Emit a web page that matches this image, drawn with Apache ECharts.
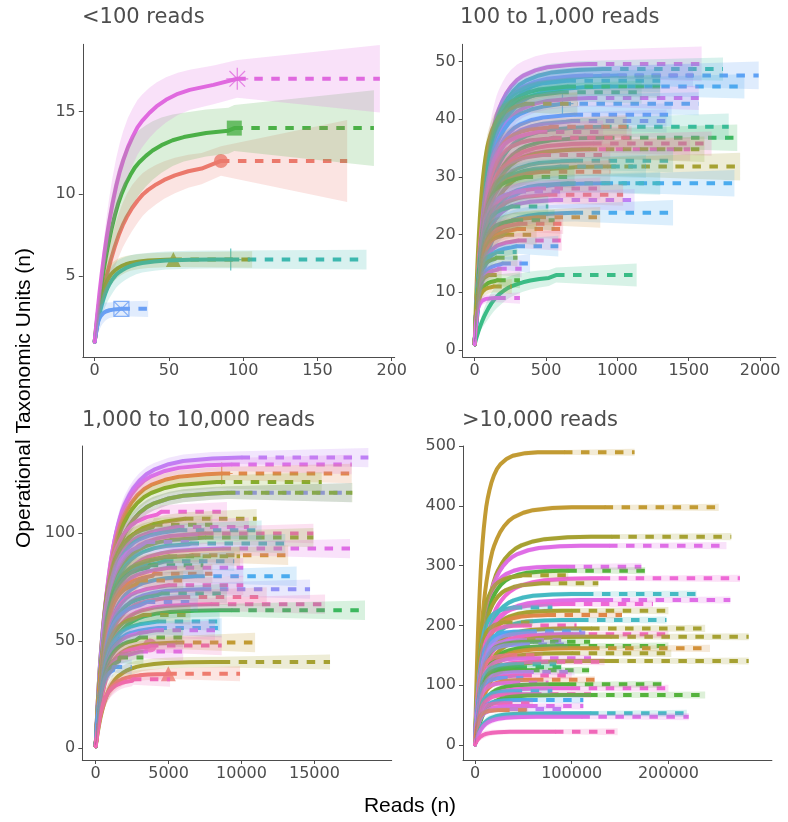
<!DOCTYPE html>
<html>
<head>
<meta charset="utf-8">
<script src="https://cdn.jsdelivr.net/npm/echarts@6/dist/echarts.min.js"></script>
<style>
  html, body { margin: 0; padding: 0; background: #ffffff; }
  #chart { width: 788px; height: 822px; }
</style>
</head>
<body>
<div id="chart"></div>
<script>
// ---- Panel headings and axis ticks ----
const panelTitles = ['<100 reads', '100 to 1,000 reads', '1,000 to 10,000 reads', '>10,000 reads'];
const xTickValues = [[0, 50, 100, 150, 200], [0, 500, 1000, 1500, 2000], [0, 5000, 10000, 15000], [0, 100000, 200000]];
const yTickValues = [[5, 10, 15], [0, 10, 20, 30, 40, 50], [0, 50, 100], [0, 100, 200, 300, 400, 500]];
const yAxisTitle = 'Operational Taxonomic Units (n)';
const xAxisTitle = 'Reads (n)';

// ---- Rarefaction profile shared by all curves ----
// steps in units of a sample's knee (reads), share of the OTU count reached,
// and relative width of the confidence ribbon along the rise
const kneeSteps   = [0, 0.05, 0.1, 0.2, 0.3, 0.4, 0.5, 0.6, 0.75, 0.9, 1.05, 1.2, 1.4, 1.6, 1.8, 2.0, 2.3, 2.6, 3.0, 3.5, 4, 5, 6, 8, 10];
const riseShare   = [0, 0.05, 0.097, 0.185, 0.262, 0.333, 0.395, 0.45, 0.525, 0.59, 0.645, 0.69, 0.74, 0.78, 0.815, 0.84, 0.87, 0.895, 0.92, 0.943, 0.958, 0.977, 0.988, 0.997, 1];
const spreadShare = [0, 0.15, 0.3, 0.5, 0.7, 0.9, 1.1, 1.25, 1.4, 1.48, 1.52, 1.55, 1.55, 1.5, 1.45, 1.4, 1.33, 1.27, 1.2, 1.12, 1.06, 1.02, 1, 1, 1];

// ---- Colours ----
const lowColors = ['#EC7A6C', '#A59B1E', '#4CB148', '#3EB8AF', '#6B9FF5', '#E069DF'];
const hueColors = ['#EE7B6E', '#E0884A', '#D4923A', '#C29B34', '#A7A232', '#86AD2E', '#55B33E', '#3DB85E',
                   '#3ABC86', '#3ABDA6', '#45BBC3', '#45B5DC', '#4AACEE', '#5FA2F6', '#9191F6', '#BE80F5',
                   '#DF6FE6', '#EE68D6', '#F167B9', '#F27291'];

// ---- Samples ----
// [observed reads, extrapolated to, observed OTUs, knee reads, CI half-width at observed, CI half-width at end, colour]
const lowSamples = [
  [85, 170, 12, 18, 0.9, 2.5, 0],
  [53, 106, 6, 6, 0.45, 0.5, 1],
  [94, 188, 14, 15, 1.4, 2.3, 2],
  [91.6, 183, 6, 8, 0.55, 0.6, 3],
  [18, 36, 3, 2.5, 0.45, 0.5, 4],
  [96, 192, 17, 16, 1.15, 2.05, 5]
];
const hundredsSamples = [
  [800, 1590, 49.6, 85, 2.4, 3.0, 16],
  [900, 1740, 48.7, 90, 1.5, 2.0, 9],
  [1000, 1990, 47.6, 100, 1.7, 2.4, 13],
  [770, 1530, 47.6, 85, 1.5, 2.0, 14],
  [650, 1300, 46.7, 75, 1.5, 2.0, 11],
  [950, 1890, 45.7, 95, 1.5, 2.1, 12],
  [650, 1300, 45.7, 75, 1.5, 2.0, 7],
  [600, 1170, 44.7, 70, 1.5, 2.0, 8],
  [800, 1570, 43.7, 85, 1.5, 2.1, 16],
  [615, 1570, 42.7, 80, 1.5, 2.0, 12],
  [360, 720, 42.7, 48, 1.5, 2.0, 4],
  [700, 1380, 40.8, 80, 1.5, 2.0, 13],
  [680, 1345, 39.7, 80, 1.5, 2.0, 14],
  [900, 1780, 38.7, 90, 1.6, 2.3, 9],
  [530, 1065, 38.7, 65, 1.5, 2.0, 1],
  [450, 900, 37.8, 60, 1.5, 2.0, 17],
  [920, 1840, 36.8, 90, 1.6, 2.3, 7],
  [550, 1100, 36.8, 65, 1.5, 2.0, 19],
  [830, 1660, 35.8, 85, 1.5, 2.1, 18],
  [750, 1510, 34.8, 80, 1.5, 2.0, 17],
  [800, 1610, 34.8, 85, 1.5, 2.2, 5],
  [475, 950, 33.8, 60, 1.5, 2.0, 19],
  [700, 1390, 32.8, 75, 1.5, 2.0, 10],
  [930, 1860, 31.8, 90, 1.6, 2.4, 4],
  [600, 1200, 31.8, 70, 1.5, 2.0, 10],
  [470, 950, 30.9, 60, 1.5, 2.0, 0],
  [350, 700, 30.0, 48, 1.4, 1.9, 6],
  [910, 1820, 28.9, 90, 1.5, 2.3, 12],
  [650, 1300, 28.9, 75, 1.5, 2.0, 10],
  [440, 880, 28.0, 55, 1.4, 1.9, 18],
  [300, 600, 27.5, 43, 1.4, 1.9, 15],
  [520, 1040, 26.9, 60, 1.4, 1.9, 0],
  [560, 1120, 26.0, 65, 1.4, 1.9, 15],
  [260, 516, 24.9, 38, 1.3, 1.8, 8],
  [700, 1390, 23.8, 75, 1.5, 2.2, 12],
  [440, 880, 23.0, 55, 1.3, 1.8, 2],
  [280, 560, 22.5, 38, 1.3, 1.8, 7],
  [310, 620, 21.9, 43, 1.3, 1.8, 19],
  [300, 600, 21.0, 43, 1.3, 1.8, 1],
  [217, 434, 20.0, 32, 1.3, 1.8, 4],
  [305, 610, 19.0, 43, 1.3, 1.8, 18],
  [293, 586, 18.0, 43, 1.3, 1.8, 12],
  [147, 294, 17.0, 24, 1.1, 1.5, 10],
  [150, 300, 16.0, 24, 1.1, 1.5, 5],
  [194, 388, 15.0, 30, 1.1, 1.6, 13],
  [165, 329, 14.1, 27, 1.1, 1.5, 16],
  [95, 189, 13.0, 16, 1.0, 1.4, 4],
  [570, 1135, 13.0, 130, 1.3, 2.0, 8],
  [158, 317, 12.1, 24, 1.0, 1.4, 6],
  [130, 260, 11.0, 19, 1.0, 1.3, 3],
  [158, 317, 9.0, 15, 0.7, 1.0, 16]
];
const thousandsSamples = [
  [10000, 18700, 135.2, 1000, 3, 4.5, 15],
  [9300, 17560, 132, 950, 3, 4.5, 16],
  [8640, 17560, 127.8, 950, 3, 4.5, 1],
  [8300, 15500, 123.9, 950, 3, 4.5, 5],
  [9300, 17560, 118.9, 1000, 3, 4.5, 14],
  [9000, 17600, 118.9, 1000, 3, 4.5, 5],
  [4500, 9000, 110, 700, 3, 4.5, 17],
  [6120, 11040, 106.8, 800, 3, 4.5, 4],
  [4000, 8000, 104, 650, 3, 4.5, 5],
  [5500, 10500, 102.9, 750, 3, 4.5, 17],
  [5700, 11380, 101.4, 750, 3, 4.5, 10],
  [7500, 14930, 99.9, 850, 3, 4.5, 18],
  [7500, 14930, 98.0, 850, 3, 4.5, 5],
  [3500, 7000, 96, 600, 3, 4.5, 15],
  [6500, 13000, 95.2, 800, 3, 4.5, 10],
  [8700, 17440, 92.9, 900, 3, 4.5, 16],
  [6600, 13200, 89.8, 800, 3, 4.5, 2],
  [5000, 9900, 89.3, 700, 3, 4.5, 4],
  [4750, 9500, 87, 700, 3, 4.5, 11],
  [3700, 7380, 85.1, 600, 3, 4.5, 7],
  [5000, 10120, 84.0, 700, 3, 4.5, 16],
  [4000, 8000, 81.2, 650, 3, 4.5, 1],
  [6900, 13780, 80.0, 800, 3, 4.5, 12],
  [3000, 6000, 78, 550, 3, 4.5, 2],
  [5000, 10120, 75.8, 700, 3, 4.5, 18],
  [7350, 14700, 74.0, 800, 3, 4.5, 14],
  [4500, 9000, 72, 700, 3, 4.5, 8],
  [5900, 11730, 70.4, 750, 3, 4.5, 19],
  [3500, 7000, 68, 600, 3, 4.5, 13],
  [7900, 15730, 67.0, 800, 3, 4.5, 18],
  [9300, 18470, 64.2, 850, 3, 4.5, 7],
  [3250, 6500, 62, 550, 3, 4.5, 4],
  [4250, 8500, 59, 600, 3, 4.5, 10],
  [4300, 8640, 56.0, 600, 3, 4.5, 12],
  [4100, 8180, 54.9, 600, 3, 4.5, 16],
  [3000, 6000, 51.5, 550, 3, 4.5, 6],
  [5500, 10930, 49.2, 650, 3, 4.5, 3],
  [3720, 8640, 47.8, 600, 3, 4.5, 18],
  [3000, 6000, 45, 500, 3, 4.5, 16],
  [1630, 3270, 42.2, 400, 2.5, 3.5, 6],
  [8640, 16070, 40.1, 800, 2.5, 3.5, 4],
  [1230, 2470, 37.8, 300, 2.5, 3.5, 13],
  [4980, 9900, 34.7, 600, 2.5, 3.5, 0],
  [2550, 5100, 32.1, 500, 2.5, 3.5, 18]
];
const deepSamples = [
  [92000, 165000, 489.5, 6500, 4, 6, 3],
  [134000, 252000, 397.5, 10000, 4, 6, 3],
  [141000, 265000, 348.4, 12000, 4, 6, 4],
  [138600, 260000, 333.3, 11000, 4, 6, 16],
  [94800, 172000, 298.2, 8000, 4, 6, 16],
  [96500, 176000, 291.5, 9000, 4, 6, 6],
  [50000, 96500, 284, 6000, 4, 6, 4],
  [131000, 274000, 278.7, 12000, 4, 6, 17],
  [69000, 127500, 270.4, 8000, 4, 6, 4],
  [113700, 229000, 252.5, 10000, 4, 6, 10],
  [134000, 264000, 242.5, 11000, 4, 6, 16],
  [95000, 184000, 235.8, 9000, 4, 6, 17],
  [40000, 80000, 230, 5000, 4, 6, 10],
  [100000, 200000, 224.6, 9000, 4, 6, 4],
  [75000, 152000, 217.4, 8000, 4, 6, 1],
  [108600, 198000, 209, 9000, 4, 6, 10],
  [30000, 60000, 205, 4000, 4, 6, 4],
  [50000, 105000, 200, 5000, 4, 6, 18],
  [120000, 238000, 195, 10000, 4, 6, 4],
  [55000, 110000, 190, 5000, 4, 6, 12],
  [55000, 114000, 186.7, 6000, 4, 6, 14],
  [100000, 200000, 185, 9000, 4, 6, 18],
  [140000, 283000, 181, 11000, 4, 6, 4],
  [45000, 90000, 175, 5000, 4, 6, 15],
  [60000, 119000, 172.8, 6000, 4, 6, 6],
  [48000, 96000, 168, 5000, 4, 6, 14],
  [100000, 200000, 165.6, 9000, 4, 6, 6],
  [120000, 243000, 161.7, 10000, 4, 6, 2],
  [100000, 203000, 153.3, 9000, 4, 6, 4],
  [35000, 70000, 150, 4000, 4, 6, 19],
  [60000, 120000, 145, 5500, 4, 6, 16],
  [140000, 283000, 140.5, 11000, 4, 6, 4],
  [67000, 134000, 139.3, 7000, 4, 6, 18],
  [42000, 84000, 135, 4500, 4, 6, 10],
  [45000, 90000, 130, 5000, 4, 6, 7],
  [58000, 118000, 125, 5000, 4, 6, 6],
  [52000, 103000, 122, 5000, 4, 6, 15],
  [50000, 100000, 116, 5000, 4, 6, 18],
  [25000, 50000, 112, 3500, 4, 6, 13],
  [62000, 124000, 109, 6000, 4, 6, 1],
  [38000, 76000, 104, 4000, 4, 6, 16],
  [96000, 193000, 101.5, 8000, 4, 6, 6],
  [100000, 200000, 94.8, 8000, 4, 6, 17],
  [40000, 80000, 90, 4500, 4, 6, 11],
  [60000, 120000, 85, 5000, 4, 6, 18],
  [118000, 238000, 83.6, 9000, 4, 6, 6],
  [56000, 112000, 75.3, 5000, 4, 6, 12],
  [30000, 60000, 70, 3500, 4, 6, 18],
  [56000, 112000, 65.2, 5000, 4, 6, 16],
  [45000, 90000, 60, 4000, 4, 6, 15],
  [27000, 55000, 58.5, 3000, 4, 6, 1],
  [119000, 219000, 53, 8000, 4, 6, 10],
  [110000, 221000, 47.4, 8000, 4, 6, 16],
  [82700, 147500, 22.2, 6000, 4, 6, 18]
];

// Observed-point markers: [panel, sample index, shape]
const markedSamples = [
  [0, 0, 'circle'], [0, 1, 'triangle'], [0, 2, 'square'],
  [0, 3, 'plus'], [0, 4, 'squareCross'], [0, 5, 'asterisk'],
  [1, 9, 'plus'],
  [2, 37, 'circle'], [2, 42, 'triangle'], [2, 2, 'plus']
];

// ---- Layout of the four panels ----
const panelLayout = [
  { grid: { left: 82.8, top: 44.3, width: 311.9, height: 312.7 }, x: [-8, 202], y: [0.07, 19.1] },
  { grid: { left: 462.7, top: 44.3, width: 313.1, height: 312.7 }, x: [-84, 2110], y: [-1.21, 53] },
  { grid: { left: 82.3, top: 446, width: 309.4, height: 314 }, x: [-920, 20300], y: [-5.44, 140.6] },
  { grid: { left: 463, top: 446, width: 308.9, height: 314 }, x: [-12400, 307000], y: [-25.1, 500] }
];
const panelSamples = [lowSamples, hundredsSamples, thousandsSamples, deepSamples];
const panelColors = [lowColors, hueColors, hueColors, hueColors];

const symbolPaths = {
  circle: 'circle',
  triangle: 'triangle',
  square: 'rect',
  plus: 'path://M5,0L5,10M0,5L10,5',
  squareCross: 'path://M0,0L10,0L10,10L0,10ZM0,0L10,10M10,0L0,10',
  asterisk: 'path://M5,0L5,10M0,5L10,5M1.46,1.46L8.54,8.54M8.54,1.46L1.46,8.54'
};
const symbolSizes = { circle: 14, triangle: 15, square: 15, plus: 22, squareCross: 15, asterisk: 22 };
const strokedSymbols = { plus: true, squareCross: true, asterisk: true };

function withAlpha(hex, a) {
  const v = parseInt(hex.slice(1), 16);
  return 'rgba(' + ((v >> 16) & 255) + ',' + ((v >> 8) & 255) + ',' + (v & 255) + ',' + a + ')';
}

// Solid rarefied curve, flat extrapolation and ribbon outline for one sample
function sampleGeometry(row) {
  const [obs, end, otus, knee, bandObs, bandEnd] = row;
  const line = [], upper = [], lower = [];
  for (let j = 0; j < kneeSteps.length; j++) {
    const x = kneeSteps[j] * knee;
    if (x >= obs) break;
    const y = 1 + (otus - 1) * riseShare[j];
    const w = bandObs * spreadShare[j];
    line.push([x, y]);
    upper.push([x, y + w]);
    lower.push([x, y - w]);
  }
  line.push([obs, otus]);
  upper.push([obs, otus + bandObs], [end, otus + bandEnd]);
  lower.push([obs, otus - bandObs], [end, otus - bandEnd]);
  return { line, extra: [[obs, otus], [end, otus]], ribbon: upper.concat(lower.reverse()) };
}

const grids = [], xAxes = [], yAxes = [], series = [];
const axisColor = '#4d4d4d';
panelLayout.forEach((p, i) => {
  grids.push(Object.assign({ containLabel: false }, p.grid));
  xAxes.push({
    type: 'value', gridIndex: i, min: p.x[0], max: p.x[1],
    axisLine: { show: true, onZero: false, lineStyle: { color: axisColor, width: 1 } },
    axisTick: { show: true, length: 4, customValues: xTickValues[i], lineStyle: { color: axisColor } },
    axisLabel: { customValues: xTickValues[i], formatter: v => String(v), color: axisColor,
                 fontFamily: 'DejaVu Sans', fontSize: 16, margin: 6 },
    splitLine: { show: false }
  });
  yAxes.push({
    type: 'value', gridIndex: i, min: p.y[0], max: p.y[1],
    axisLine: { show: true, onZero: false, lineStyle: { color: axisColor, width: 1 } },
    axisTick: { show: true, length: 4, customValues: yTickValues[i], lineStyle: { color: axisColor } },
    axisLabel: { customValues: yTickValues[i], formatter: v => String(v), color: axisColor,
                 fontFamily: 'DejaVu Sans', fontSize: 16, margin: 7 },
    splitLine: { show: false }
  });

  const rows = panelSamples[i];
  const colors = panelColors[i];
  const geoms = rows.map(sampleGeometry);

  // rarefied (solid) and extrapolated (dashed) curves
  rows.forEach((row, k) => {
    const c = colors[row[6]];
    series.push({
      type: 'line', xAxisIndex: i, yAxisIndex: i, data: geoms[k].line,
      smooth: false, showSymbol: false, symbol: 'none', silent: true, z: 2,
      lineStyle: { color: c, width: 4, cap: 'round', join: 'round' }
    });
    series.push({
      type: 'line', xAxisIndex: i, yAxisIndex: i, data: geoms[k].extra,
      showSymbol: false, symbol: 'none', silent: true, z: 2,
      lineStyle: { color: c, width: 4, type: [8.5, 8.5], cap: 'butt' }
    });
  });

  // confidence ribbons, drawn over the curves
  series.push({
    type: 'custom', xAxisIndex: i, yAxisIndex: i, silent: true, z: 3, clip: true,
    data: rows.map(() => 0),
    renderItem: (params, api) => {
      const k = params.dataIndex;
      const pts = geoms[k].ribbon.map(pt => api.coord(pt));
      return { type: 'polygon', shape: { points: pts },
               style: { fill: withAlpha(colors[rows[k][6]], 0.2), stroke: null } };
    }
  });
});

// observed-point markers
markedSamples.forEach(([panel, idx, shape]) => {
  const row = panelSamples[panel][idx];
  const c = panelColors[panel][row[6]];
  const stroked = !!strokedSymbols[shape];
  series.push({
    type: 'scatter', xAxisIndex: panel, yAxisIndex: panel, silent: true, z: 1,
    symbol: symbolPaths[shape], symbolSize: symbolSizes[shape],
    data: [[row[0], row[2]]],
    itemStyle: stroked ? { color: 'transparent', borderColor: c, borderWidth: 1.2 } : { color: c }
  });
});

const titleStyle = { font: '21px "DejaVu Sans"', fill: '#4d4d4d' };
const titlePos = [[82, 18], [460, 18], [82, 421], [462, 421]];
const graphics = panelTitles.map((t, i) => ({
  type: 'text', x: titlePos[i][0], y: titlePos[i][1], silent: true,
  style: Object.assign({ text: t, align: 'left', verticalAlign: 'middle',
                         textAlign: 'left', textVerticalAlign: 'middle' }, titleStyle)
}));
graphics.push({
  type: 'text', x: 24, y: 398, rotation: Math.PI / 2, silent: true,
  style: { text: yAxisTitle, font: '21px "Liberation Sans"', fill: '#000000',
           align: 'center', verticalAlign: 'middle', textAlign: 'center', textVerticalAlign: 'middle' }
});
graphics.push({
  type: 'text', x: 410, y: 806, silent: true,
  style: { text: xAxisTitle, font: '21px "Liberation Sans"', fill: '#000000',
           align: 'center', verticalAlign: 'middle', textAlign: 'center', textVerticalAlign: 'middle' }
});

const chart = echarts.init(document.getElementById('chart'), null, { renderer: 'canvas' });
chart.setOption({
  animation: false,
  backgroundColor: '#ffffff',
  grid: grids,
  xAxis: xAxes,
  yAxis: yAxes,
  series: series,
  graphic: graphics
});
</script>
</body>
</html>
